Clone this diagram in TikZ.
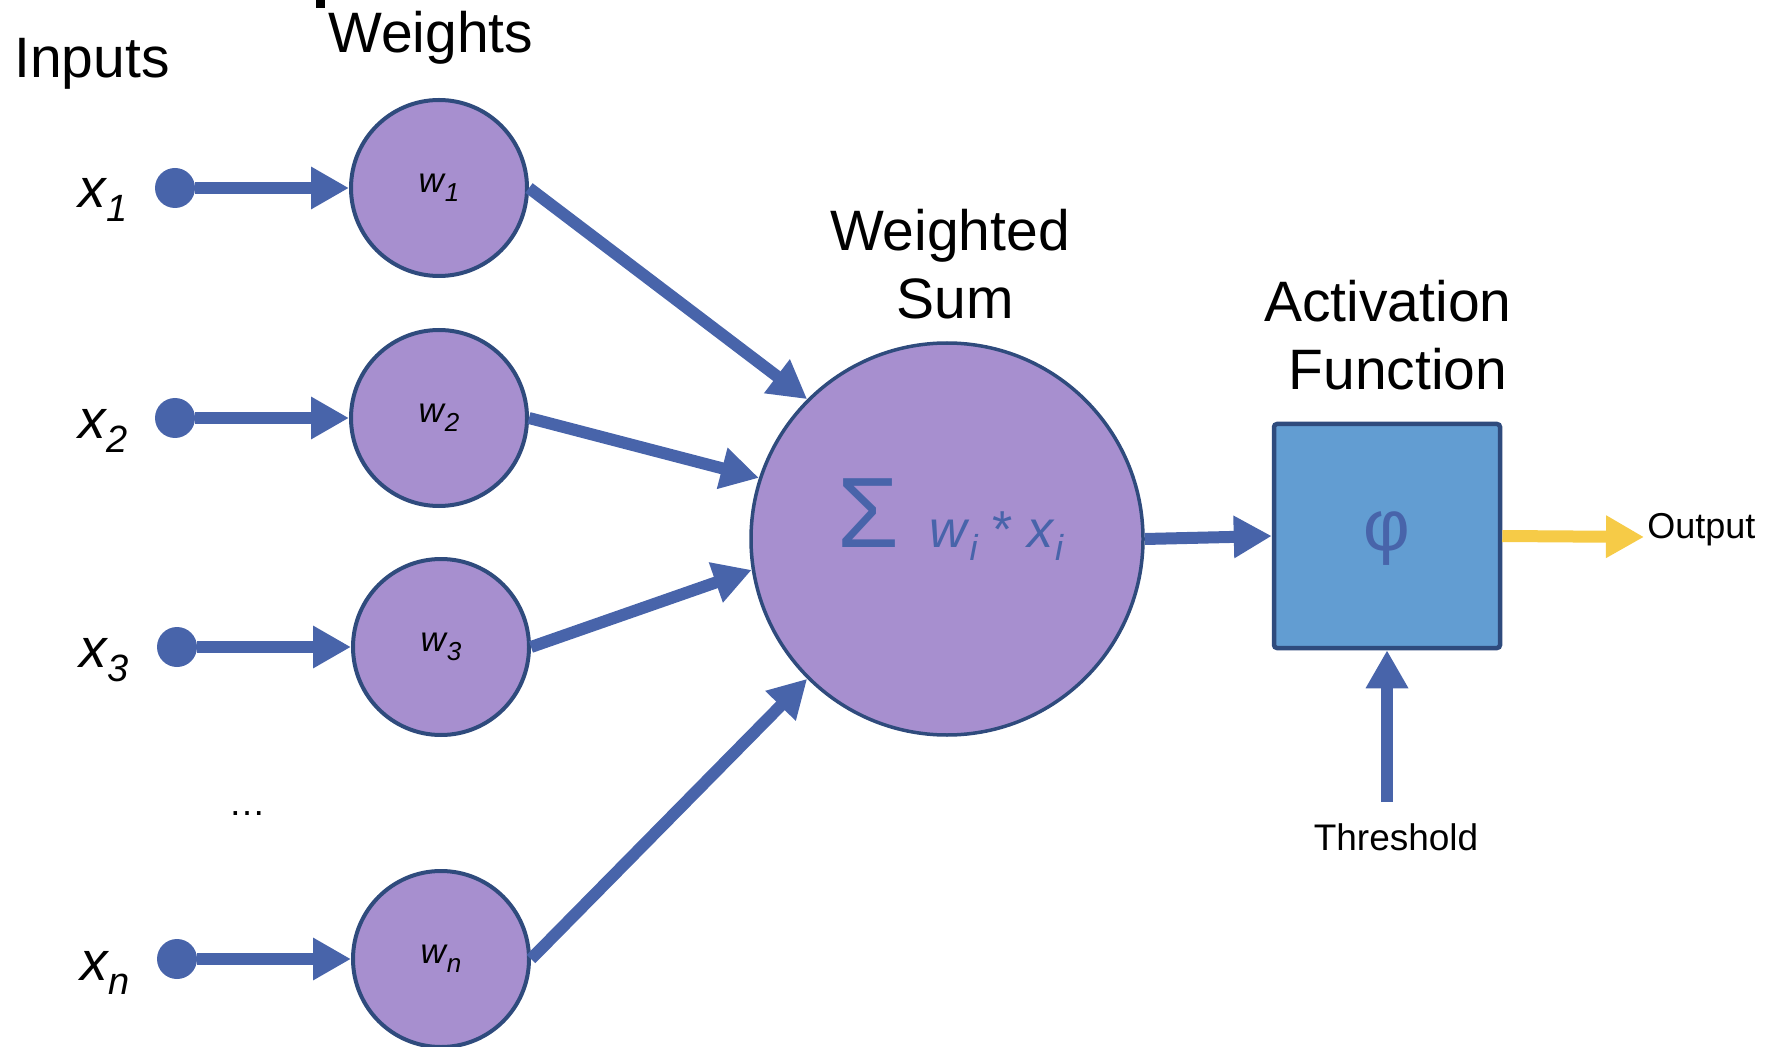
\documentclass[tikz,border=0pt]{standalone}
\usepackage{fontspec}
\setmainfont{Liberation Sans}
\usetikzlibrary{arrows.meta}
\definecolor{ablue}{HTML}{4864AA}
\definecolor{cfill}{HTML}{A78FCF}
\definecolor{cbord}{HTML}{2F4B7D}
\definecolor{bfill}{HTML}{629DD2}
\definecolor{ayel}{HTML}{F6CB47}
\newcommand{\xin}[1]{\textit{x}\hspace{-0.5pt}\raisebox{-7pt}{\fontsize{19}{22}\selectfont\textit{#1}}}
\newcommand{\wlab}[1]{\textit{w}\hspace{-0.5pt}\raisebox{-4.5pt}{\fontsize{13}{15}\selectfont\textit{#1}}}
\newcommand{\slab}[1]{\textit{#1}\raisebox{-6.5pt}{\fontsize{18}{20}\selectfont\textit{i}}}
\begin{document}
\begin{tikzpicture}[x=0.5pt,y=-0.5pt,
  big/.style={font=\fontsize{28.5}{34}\selectfont, inner sep=0pt, align=center},
  xl/.style={font=\fontsize{27.5}{32}\selectfont, anchor=base west, inner sep=0pt},
  dot/.style={circle, fill=ablue, minimum size=20pt, inner sep=0pt},
  wnode/.style={circle, draw=cbord, line width=2pt, fill=cfill, minimum size=88pt, inner sep=0pt, font=\fontsize{17.5}{20}\selectfont},
  arr/.style={draw=ablue, line width=6pt, -{Triangle[length=19pt,width=20pt]}},
  small/.style={font=\fontsize{18}{22}\selectfont, inner sep=0pt}]
\useasboundingbox (0,0) rectangle (1770,1047);
\fill[black] (316,0) rectangle (325,8);
% titles
\node[big, anchor=base west] (tin) at (14,78) {Inputs};
\node[big, anchor=base west] (tw) at (328,53) {Weights};
\node[big, anchor=north] (tsum) at (950,209) {Weighted\\\hspace*{5pt}Sum};
\node[big, anchor=north] (tact) at (1388,280) {Activation\\\hspace*{10pt}Function};
% input labels
\node[xl] (l1) at (78,208) {\xin{1}};
\node[xl] (l2) at (78,438) {\xin{2}};
\node[xl] (l3) at (79,667) {\xin{3}};
\node[xl] (ln) at (80,980) {\xin{n}};
% dots
\node[dot] (d1) at (175,188) {};
\node[dot] (d2) at (175,418) {};
\node[dot] (d3) at (177,647) {};
\node[dot] (dn) at (177,959) {};
% weights
\node[wnode] (w1) at (439,188) {\wlab{1}};
\node[wnode] (w2) at (439,418) {\wlab{2}};
\node[wnode] (w3) at (441,647) {\wlab{3}};
\node[wnode] (wn) at (441,959) {\wlab{n}};
\node[small, anchor=base, font=\fontsize{18.5}{22}\selectfont] (dots) at (247,815) {…};
% sum
\node[circle, draw=cbord, line width=1.75pt, fill=cfill, minimum size=196pt, inner sep=0pt] (sum) at (947,539) {};
\node[anchor=base west, text=ablue, inner sep=0pt, font=\fontsize{26}{30}\selectfont] (sumtxt) at (837,547)
  {{\fontsize{50}{60}\selectfont Σ}\hspace{15pt}\slab{w} * \slab{x}};
% activation
\node[rectangle, draw=cbord, line width=2.25pt, fill=bfill, rounded corners=1.5pt, minimum width=113pt, minimum height=112pt, inner sep=0pt, text=ablue, font=\fontsize{36}{40}\selectfont] (act) at (1387,536) {\raisebox{0pt}[12pt][12pt]{\raisebox{-7.3pt}{φ}}};
\coordinate (thr) at (1387,802);
\coordinate (out) at (1644,537);
\node[small, anchor=base, font=\fontsize{18.5}{22}\selectfont] (tthr) at (1396,850) {Threshold};
\node[small, anchor=base west] (tout) at (1647,538) {Output};
% connectors
\draw[arr] (d1) -- (w1);
\draw[arr] (d2) -- (w2);
\draw[arr] (d3) -- (w3);
\draw[arr] (dn) -- (wn);
\draw[arr] (w1.east) -- (sum.135);
\draw[arr] (w2.east) -- (sum.162);
\draw[arr] (w3.east) -- (sum.189);
\draw[arr] (wn.east) -- (sum.225);
\draw[arr] (sum.east) -- (act.west);
\draw[arr] (thr) -- (act.south);
\draw[arr, draw=ayel] (act.east) -- (out);
\end{tikzpicture}
\end{document}
